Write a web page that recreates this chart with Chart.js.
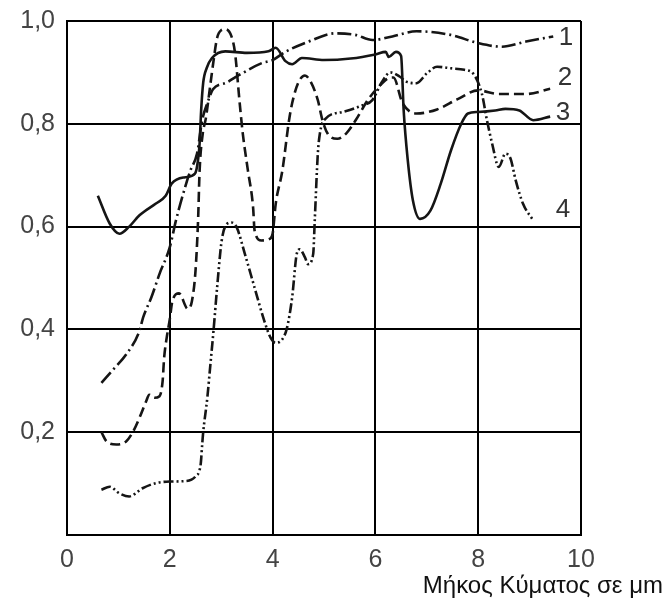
<!DOCTYPE html>
<html>
<head>
<meta charset="utf-8">
<script src="https://cdn.jsdelivr.net/npm/chart.js@4/dist/chart.umd.min.js"></script>
<style>
  body { margin: 0; background: #fff; }
  #wrap { width: 667px; height: 604px; }
</style>
</head>
<body>
<div id="wrap"><canvas id="specChart" width="667" height="604"></canvas></div>
<script>
// curve 1 (dash-dot)
const curve1X = [0.67, 0.9, 1.15, 1.41, 1.48, 1.64, 1.8, 2.0, 2.12, 2.24, 2.4, 2.53, 2.63, 2.73, 2.84, 3.1, 3.35, 3.79, 4.0, 4.25, 4.7, 5.22, 5.61, 5.94, 6.33, 6.8, 7.46, 8.0, 8.46, 8.93, 9.46];
const curve1Y = [0.296, 0.322, 0.351, 0.397, 0.423, 0.462, 0.508, 0.56, 0.612, 0.657, 0.709, 0.742, 0.807, 0.84, 0.867, 0.88, 0.895, 0.918, 0.924, 0.94, 0.96, 0.976, 0.973, 0.963, 0.97, 0.98, 0.973, 0.957, 0.95, 0.96, 0.97];

// curve 2 (dashed)
const curve2X = [0.67, 0.77, 0.96, 1.15, 1.28, 1.41, 1.54, 1.6, 1.7, 1.8, 1.86, 1.89, 1.94, 2.0, 2.05, 2.18, 2.35, 2.43, 2.5, 2.55, 2.58, 2.64, 2.7, 2.79, 2.85, 2.92, 3.0, 3.08, 3.2, 3.27, 3.36, 3.42, 3.52, 3.62, 3.65, 3.78, 3.94, 4.0, 4.06, 4.19, 4.32, 4.38, 4.5, 4.63, 4.75, 4.88, 4.97, 5.07, 5.26, 5.43, 5.66, 5.85, 6.13, 6.26, 6.35, 6.53, 6.8, 7.2, 7.6, 8.0, 8.4, 8.93, 9.4];
const curve2Y = [0.2, 0.182, 0.176, 0.182, 0.2, 0.228, 0.26, 0.273, 0.267, 0.27, 0.299, 0.345, 0.384, 0.42, 0.455, 0.47, 0.44, 0.455, 0.514, 0.612, 0.709, 0.78, 0.81, 0.877, 0.922, 0.967, 0.982, 0.984, 0.97, 0.937, 0.84, 0.781, 0.709, 0.638, 0.592, 0.573, 0.576, 0.586, 0.644, 0.709, 0.807, 0.84, 0.88, 0.894, 0.88, 0.846, 0.807, 0.781, 0.771, 0.781, 0.814, 0.846, 0.879, 0.889, 0.89, 0.84, 0.82, 0.828, 0.848, 0.865, 0.858, 0.858, 0.868];

// curve 3 (solid)
const curve3X = [0.6, 0.83, 1.02, 1.21, 1.41, 1.73, 1.92, 2.04, 2.3, 2.49, 2.55, 2.58, 2.61, 2.65, 2.72, 2.82, 3.08, 3.5, 3.92, 4.06, 4.25, 4.38, 4.57, 5.0, 5.52, 6.0, 6.2, 6.26, 6.4, 6.5, 6.55, 6.63, 6.73, 6.87, 7.07, 7.27, 7.47, 7.67, 7.8, 8.0, 8.33, 8.53, 8.8, 9.07, 9.4];
const curve3Y = [0.66, 0.606, 0.586, 0.6, 0.622, 0.645, 0.66, 0.684, 0.696, 0.703, 0.73, 0.762, 0.826, 0.88, 0.909, 0.928, 0.941, 0.938, 0.941, 0.948, 0.922, 0.916, 0.928, 0.924, 0.927, 0.935, 0.94, 0.93, 0.94, 0.932, 0.826, 0.729, 0.651, 0.615, 0.631, 0.683, 0.748, 0.8, 0.82, 0.823, 0.826, 0.829, 0.826, 0.807, 0.814];

// curve 4 (dash-dot-dot)
const curve4X = [0.67, 0.83, 1.02, 1.21, 1.47, 1.73, 2.0, 2.31, 2.5, 2.6, 2.63, 2.65, 2.73, 2.79, 2.85, 2.92, 3.01, 3.11, 3.2, 3.3, 3.46, 3.65, 3.84, 3.96, 4.06, 4.19, 4.28, 4.38, 4.47, 4.53, 4.63, 4.69, 4.79, 4.82, 4.88, 4.92, 5.0, 5.36, 5.75, 5.94, 6.13, 6.29, 6.47, 6.6, 6.8, 7.0, 7.2, 7.47, 7.73, 7.9, 8.07, 8.17, 8.27, 8.4, 8.53, 8.63, 8.73, 8.87, 9.07];
const curve4Y = [0.088, 0.094, 0.081, 0.075, 0.091, 0.101, 0.104, 0.105, 0.114, 0.137, 0.176, 0.2, 0.267, 0.332, 0.397, 0.481, 0.573, 0.605, 0.608, 0.599, 0.547, 0.481, 0.416, 0.384, 0.374, 0.381, 0.403, 0.462, 0.547, 0.556, 0.54, 0.527, 0.547, 0.612, 0.742, 0.781, 0.807, 0.823, 0.836, 0.846, 0.882, 0.9, 0.892, 0.882, 0.879, 0.898, 0.911, 0.908, 0.905, 0.898, 0.859, 0.807, 0.762, 0.716, 0.742, 0.732, 0.69, 0.645, 0.612];

// curve numbers written at the right end
const curveNames = ["1", "2", "3", "4"];
const nameX = [9.71, 9.69, 9.65, 9.65];
const nameY = [0.967, 0.889, 0.821, 0.632];

const axisTitle = "Μήκος Κύματος σε μm";

const FONT = "'Liberation Sans', Arial, sans-serif";
const INK = "#151515";

const toPoints = (xs, ys) => xs.map((x, i) => ({ x: x, y: ys[i] }));

const lineStyle = (dash) => ({
  borderColor: INK,
  borderWidth: 2.6,
  borderDash: dash,
  pointRadius: 0,
  fill: false,
  cubicInterpolationMode: "monotone"
});

const labelsPlugin = {
  id: "curveLabels",
  afterDraw(chart) {
    const ctx = chart.ctx;
    const xs = chart.scales.x, ys = chart.scales.y;
    ctx.save();
    ctx.fillStyle = "#333";
    ctx.font = "26px " + FONT;
    ctx.textAlign = "center";
    ctx.textBaseline = "middle";
    curveNames.forEach((n, i) => {
      ctx.fillText(n, xs.getPixelForValue(nameX[i]), ys.getPixelForValue(nameY[i]));
    });
    ctx.font = "24px " + FONT;
    ctx.fillStyle = "#111";
    ctx.textAlign = "right";
    ctx.textBaseline = "alphabetic";
    ctx.fillText(axisTitle, 663, 593);
    ctx.restore();
  }
};

new Chart(document.getElementById("specChart"), {
  type: "line",
  data: {
    datasets: [
      { label: "1", data: toPoints(curve1X, curve1Y), ...lineStyle([14, 4, 2, 4]) },
      { label: "2", data: toPoints(curve2X, curve2Y), ...lineStyle([10, 5]) },
      { label: "3", data: toPoints(curve3X, curve3Y), ...lineStyle([]) },
      { label: "4", data: toPoints(curve4X, curve4Y), ...lineStyle([10, 3, 2, 3, 2, 3]) }
    ]
  },
  options: {
    responsive: false,
    animation: false,
    layout: { padding: { top: 21, right: 86, left: 0, bottom: 0 } },
    plugins: {
      legend: { display: false },
      tooltip: { enabled: false }
    },
    scales: {
      x: {
        type: "linear",
        min: 0,
        max: 10,
        afterFit: (s) => { s.height = 69; s.paddingLeft = 0; s.paddingRight = 0; },
        border: { color: "#000", width: 2 },
        grid: { color: "#000", lineWidth: 2, drawTicks: false },
        ticks: {
          stepSize: 2,
          padding: 10,
          color: "#444",
          font: { family: FONT, size: 25 }
        }
      },
      y: {
        min: 0,
        max: 1,
        afterFit: (s) => { s.width = 67; s.paddingTop = 0; s.paddingBottom = 0; },
        border: { color: "#000", width: 2 },
        grid: { color: "#000", lineWidth: 2, drawTicks: false },
        ticks: {
          stepSize: 0.2,
          padding: 12,
          color: "#444",
          font: { family: FONT, size: 25 },
          callback: (v) => v === 0 ? "" : v.toFixed(1).replace(".", ",")
        }
      }
    }
  },
  plugins: [labelsPlugin]
});
</script>
</body>
</html>
